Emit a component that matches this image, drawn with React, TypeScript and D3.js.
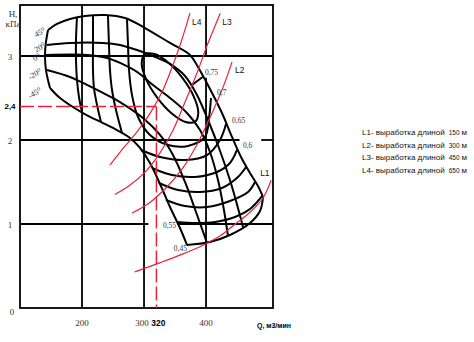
import React from "react";
import * as d3 from "d3";

// ---- axes ----
const xDomain = [100, 508];
const yDomain = [0, 3.607];
const xTicks = [200, 300, 400];
const yTicks = [0, 1, 2, 3];

// ---- fan characteristic: blade-angle curves (Q m3/min, H kPa) ----
const angleLabels = ["45⁰", "20⁰", "0⁰", "-20⁰", "-45⁰"];
const angle45 = [[145.2,3.31],[159.7,3.381],[180.6,3.44],[204.8,3.476],[237.1,3.488],[269.3,3.452],[301.6,3.333],[341.9,3.155],[374.1,3.012],[387,2.869],[406.4,2.607],[425.7,2.321],[441.9,2.036],[456.4,1.798],[470.9,1.607],[483.8,1.452],[491.9,1.321]];
const angle20 = [[143.5,3.131],[180.6,3.155],[233.8,3.155],[261.3,3.131],[288.7,3.071],[314.5,3.0],[341.9,2.905],[366.1,2.762],[385.4,2.536],[403.2,2.238],[420.9,1.905],[438.6,1.524],[451.5,1.19],[459.6,0.964]];
const angle0 = [[141.9,3.012],[208,3.012],[240.3,2.976],[261.3,2.917],[288.7,2.81],[314.5,2.655],[341.9,2.5],[369.3,2.321],[390.3,2.119],[406.4,1.857],[419.3,1.524],[428.9,1.167],[435.4,0.857]];
const angleM20 = [[143.5,2.833],[180.6,2.75],[208,2.655],[233.8,2.56],[261.3,2.452],[298.3,2.262],[325.8,2.06],[346.7,1.821],[366.1,1.5],[383.8,1.143],[401.6,0.774]];
const angleM45 = [[148.4,2.619],[164.5,2.5],[201.6,2.321],[233.8,2.202],[250,2.143],[277.4,2.024],[293.5,1.905],[309.6,1.726],[325.8,1.476],[341.9,1.202],[358,0.952],[369.3,0.75]];
const leftEdge = [[145.2,3.31],[141.9,3.167],[140.3,3.012],[141.9,2.833],[148.4,2.619]];

// cross curves of the mesh
const cross1 = [[191.9,3.464],[190.3,3.19],[190.3,2.952],[191.9,2.714],[195.1,2.512],[200,2.333]];
const cross2 = [[217.7,3.476],[217.7,3.131],[217.7,2.833],[219.3,2.619],[224.2,2.417],[230.6,2.214]];
const cross3 = [[241.9,3.476],[243.5,3.131],[245.1,2.833],[248.4,2.595],[254.8,2.357],[264.5,2.083]];
const cross4 = [[324.1,1.488],[354.8,1.405],[390.3,1.381],[425.7,1.429],[451.5,1.56],[464.5,1.679]];
const cross5 = [[335.4,1.286],[366.1,1.214],[401.6,1.202],[438.6,1.274],[467.7,1.381],[479,1.5]];

// efficiency contours
const eta075 = [[382.7,2.219],[366.9,2.215],[344.3,2.319],[321.3,2.505],[303.7,2.719],[296.3,2.908],[301.1,3.019],[316.9,3.023],[339.5,2.919],[362.5,2.733],[380.1,2.519],[387.5,2.33]];
const eta075Leader = [[377.4,2.655],[394.5,2.75]];
const eta070 = [[272.5,3.452],[274.2,3.131],[275.8,2.833],[280.6,2.536],[290.3,2.274],[309.6,2.06],[338.7,1.94],[370.9,1.929],[398.3,2.036],[404.8,2.262],[408,2.5]];
const eta065 = [[295.1,1.881],[325.8,1.798],[366.1,1.762],[401.6,1.821],[422.5,2.0],[432.2,2.19]];
const eta060 = [[312.9,1.667],[345.1,1.583],[382.2,1.56],[417.7,1.619],[438.6,1.726],[449.9,1.881]];
const eta055 = [[353.2,1.024],[382.2,1.012],[414.5,1.024],[446.7,1.083],[470.9,1.179],[490.2,1.333]];
const eta045 = [[369.3,0.75],[406.4,0.786],[438.6,0.869],[470.9,1.012],[487,1.155],[491.9,1.321]];
const etaLabels = ["0,75", "0,7", "0,65", "0,6", "0,55", "0,45"];
const etaLabelAt = [[398.3,2.774],[417.7,2.536],[441.9,2.202],[459.6,1.905],[351.6,0.952],[369.3,0.679]];

// network resistance curves
const L1 = [[285,0.43],[326,0.54],[358,0.63],[390,0.73],[423,0.86],[447,1.0],[471,1.14],[492,1.31],[505,1.52]];
const L2 = [[281,1.13],[310,1.26],[337,1.44],[363,1.67],[385,1.94],[406,2.26],[426,2.6],[442,2.93]];
const L3 = [[253,1.35],[277,1.46],[302,1.62],[326,1.85],[347,2.12],[366,2.45],[384,2.77],[402,3.13],[423,3.51]];
const L4 = [[245,1.7],[264,1.88],[289,2.1],[310,2.32],[329,2.57],[345,2.86],[360,3.17],[374,3.51]];

// operating point
const opQ = 320;
const opH = 2.4;

const legendNames = ["L1- выработка длиной", "L2- выработка длиной", "L3- выработка длиной", "L4- выработка длиной"];
const legendLengths = ["150", "300", "450", "650"];

const W = 474, H = 342;
const RED = "#e5243b";

export default function App() {
  const x = d3.scaleLinear().domain(xDomain).range([20, 273]);
  const y = d3.scaleLinear().domain(yDomain).range([308, 5]);
  const line = d3.line<number[]>().x(d => x(d[0])).y(d => y(d[1])).curve(d3.curveCatmullRom.alpha(0.5));
  const closed = d3.line<number[]>().x(d => x(d[0])).y(d => y(d[1])).curve(d3.curveCatmullRomClosed.alpha(0.5));
  const straight = d3.line<number[]>().x(d => x(d[0])).y(d => y(d[1]));

  const angleCurves = [angle45, angle20, angle0, angleM20, angleM45];
  const angleOff = [[-2, 2], [-1, 2], [-5, 3], [-5, 3], [-8, 4]];
  const meshCurves = [leftEdge, cross1, cross2, cross3, cross4, cross5, eta070, eta065, eta060, eta055, eta045, eta075Leader];
  const redCurves = [L1, L2, L3, L4];
  const redNames = ["L1", "L2", "L3", "L4"];
  const redLabelOff = [[-11, -4], [3, 11], [2, 12], [2, 12]];

  const serif = "'Liberation Serif', 'DejaVu Serif', serif";
  const sans = "'Liberation Sans', Arial, sans-serif";

  return (
    <svg width={W} height={H} style={{ position: "absolute", left: 0, top: 0, background: "#fff" }}>
      <rect width={W} height={H} fill="#fff" />
      {/* grid */}
      <g stroke="#000" strokeWidth={1.8} fill="none">
        <rect x={x(xDomain[0])} y={y(yDomain[1])} width={x(xDomain[1]) - x(xDomain[0])} height={y(0) - y(yDomain[1])} />
        <line x1={x(200)} x2={x(200)} y1={y(0)} y2={y(yDomain[1])} />
        <line x1={x(300)} x2={x(300)} y1={y(0)} y2={y(yDomain[1])} />
        <line x1={x(400)} x2={x(400)} y1={y(0)} y2={y(2.74)} />
        <line x1={x(400)} x2={x(400)} y1={y(3.0)} y2={y(yDomain[1])} />
        <line x1={x(100)} x2={x(508)} y1={y(3)} y2={y(3)} />
        <line x1={x(100)} x2={x(454)} y1={y(2)} y2={y(2)} />
        <line x1={x(489)} x2={x(508)} y1={y(2)} y2={y(2)} />
        <line x1={x(100)} x2={x(307)} y1={y(1)} y2={y(1)} />
        <line x1={x(354)} x2={x(508)} y1={y(1)} y2={y(1)} />
      </g>
      {/* mesh */}
      <g stroke="#000" strokeWidth={2} fill="none" strokeLinejoin="round">
        {angleCurves.map((c, i) => <path key={"a" + i} d={line(c) || ""} />)}
        {meshCurves.map((c, i) => <path key={"m" + i} d={line(c) || ""} />)}
        <path d={closed(eta075) || ""} />
      </g>
      {/* resistance curves */}
      <g stroke={RED} strokeWidth={1.2} fill="none">
        {redCurves.map((c, i) => <path key={"r" + i} d={line(c) || ""} />)}
      </g>
      <g stroke={RED} strokeWidth={1.5} fill="none" strokeDasharray="14,4">
        <path d={straight([[xDomain[0], opH], [opQ, opH]]) || ""} />
        <path d={straight([[opQ, opH], [opQ, 0]]) || ""} />
      </g>
      {/* labels */}
      <g fontFamily={serif} fontSize={9} fill="#333">
        {yTicks.map(t => (
          <text key={"y" + t} x={t === 0 ? 12 : 10} y={y(t) + (t === 0 ? 7 : 4)} textAnchor="middle">{t}</text>
        ))}
        {xTicks.map(t => (
          <text key={"x" + t} x={x(t) - (t === 300 ? 2 : 0)} y={326} textAnchor="middle">{t}</text>
        ))}
        <text x={13} y={17} textAnchor="middle">H,</text>
        <text x={13} y={27} textAnchor="middle">кПа</text>
      </g>
      <text x={10} y={y(opH) + 3} textAnchor="middle" fontFamily={sans} fontWeight="bold" fontSize={8}>2,4</text>
      <text x={x(opQ) + 2} y={326} textAnchor="middle" fontFamily={sans} fontWeight="bold" fontSize={8.5}>{opQ}</text>
      <text x={274} y={328} textAnchor="middle" fontFamily={sans} fontWeight="bold" fontSize={7}>Q, м3/мин</text>
      <g fontFamily={serif} fontSize={8} fill="#333">
        {angleCurves.map((c, i) => (
          <text key={"al" + i} transform={`translate(${x(c[0][0]) + angleOff[i][0]},${y(c[0][1]) + angleOff[i][1]}) rotate(-30)`} textAnchor="end">{angleLabels[i]}</text>
        ))}
      </g>
      <g fontFamily={serif} fontSize={7.5} fill="#333">
        {etaLabels.map((t, i) => (
          <text key={"el" + i} x={x(etaLabelAt[i][0])} y={y(etaLabelAt[i][1])} textAnchor={i >= 4 ? "end" : "start"}>{t}</text>
        ))}
      </g>
      <g fontFamily={sans} fontSize={8.5} fill="#111">
        {redCurves.map((c, i) => {
          const p = c[c.length - 1];
          return <text key={"rl" + i} x={x(p[0]) + redLabelOff[i][0]} y={y(p[1]) + redLabelOff[i][1]}>{redNames[i]}</text>;
        })}
      </g>
      <g fontFamily={sans} fontSize={8} fill="#111">
        {legendNames.map((n, i) => (
          <text key={"lg" + i} x={362} y={135 + i * 12.7}>
            {n}
            <tspan fontSize={6.5} dx={4}>{legendLengths[i]}</tspan>
            <tspan dx={2}>м</tspan>
          </text>
        ))}
      </g>
    </svg>
  );
}
